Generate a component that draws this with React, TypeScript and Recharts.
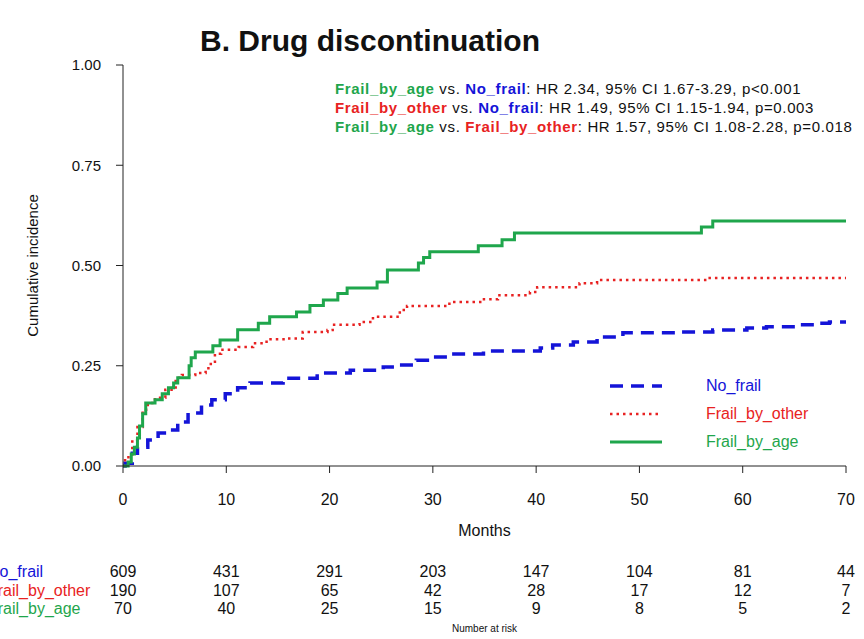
import { LineChart, Line, XAxis, YAxis, Label } from "recharts";

const GREEN = "#1fa64c";
const RED = "#e82222";
const BLUE = "#1414d8";
const FONT = "'Liberation Sans', Arial, sans-serif";

const monthTicks = [0, 10, 20, 30, 40, 50, 60, 70];
const yTicks = [0, 0.25, 0.5, 0.75, 1];

// cumulative incidence, step changes (month, value)
const noFrail = [
  [0, 0], [0.2, 0.007], [0.9, 0.032], [1.4, 0.047], [2.4, 0.065], [3.4, 0.082], [4.4, 0.09],
  [5.3, 0.11], [6.3, 0.132], [7.6, 0.152], [8.6, 0.165], [9.9, 0.18], [11.1, 0.195], [12.3, 0.207],
  [15.5, 0.219], [18.8, 0.232], [22, 0.239], [25.2, 0.247], [26.8, 0.252], [28.4, 0.264], [30, 0.272],
  [31.7, 0.279], [34.9, 0.287], [40.4, 0.294], [41.6, 0.302], [43.6, 0.309], [45.9, 0.322],
  [48.4, 0.332], [53.9, 0.334], [57.1, 0.339], [60.4, 0.344], [62.3, 0.347], [65.2, 0.352],
  [67.5, 0.356], [68.4, 0.359], [70, 0.359],
].map(([t, v]) => ({ t, v }));

const frailByOther = [
  [0, 0], [0.2, 0.022], [0.9, 0.065], [1.4, 0.097], [1.9, 0.14], [2.4, 0.157], [3.1, 0.17], [4.1, 0.19],
  [5.1, 0.22], [5.7, 0.227], [7.0, 0.232], [8.0, 0.244], [8.5, 0.26], [8.9, 0.28], [9.5, 0.29],
  [11.2, 0.297], [12.6, 0.306], [13.9, 0.316], [15.9, 0.318], [17.4, 0.334], [19.8, 0.339],
  [20.3, 0.352], [22.9, 0.359], [24.2, 0.372], [26.8, 0.389], [27.5, 0.399], [31.6, 0.409],
  [34.8, 0.416], [36.3, 0.426], [39.4, 0.434], [40.1, 0.446], [44.2, 0.456], [45.9, 0.464],
  [56.5, 0.469], [70, 0.469],
].map(([t, v]) => ({ t, v }));

const frailByAge = [
  [0, 0], [0.5, 0.01], [0.8, 0.03], [1.1, 0.047], [1.4, 0.07], [1.6, 0.1], [1.9, 0.13], [2.2, 0.157],
  [3.1, 0.165], [3.8, 0.18], [4.4, 0.195], [4.9, 0.207], [5.3, 0.22], [6.4, 0.25], [6.6, 0.27],
  [7.0, 0.284], [8.7, 0.3], [9.4, 0.314], [11.1, 0.34], [13.1, 0.356], [14.2, 0.372], [16.8, 0.384],
  [18.1, 0.4], [19.4, 0.414], [20.8, 0.43], [21.7, 0.444], [24.6, 0.459], [25.6, 0.489], [28.6, 0.506],
  [29.1, 0.52], [29.7, 0.534], [34.4, 0.549], [36.7, 0.564], [37.9, 0.581], [56.0, 0.596],
  [57.1, 0.611], [70, 0.611],
].map(([t, v]) => ({ t, v }));

// number at risk
const riskNoFrail = [609, 431, 291, 203, 147, 104, 81, 44];
const riskFrailOther = [190, 107, 65, 42, 28, 17, 12, 7];
const riskFrailAge = [70, 40, 25, 15, 9, 8, 5, 2];

const groups = [
  { name: "No_frail", color: BLUE, risk: riskNoFrail, data: noFrail, dash: "13 8", width: 3.5 },
  { name: "Frail_by_other", color: RED, risk: riskFrailOther, data: frailByOther, dash: "2.5 4", width: 2.5 },
  { name: "Frail_by_age", color: GREEN, risk: riskFrailAge, data: frailByAge, dash: undefined, width: 3 },
];

function riskTick(g: typeof groups[number]) {
  return (props: any) => {
    const { x, y, index } = props;
    return (
      <g>
        {index === 0 && (
          <text x={x - 135} y={y} dy={21} fontSize={16} fill={g.color} fontFamily={FONT}>
            {g.name}
          </text>
        )}
        <text x={x} y={y} dy={21} fontSize={16} fill="#111" textAnchor="middle" fontFamily={FONT}>
          {g.risk[index]}
        </text>
      </g>
    );
  };
}

const B = (c: string, s: string) => <span style={{ color: c, fontWeight: "bold" }}>{s}</span>;

export default function App() {
  return (
    <div style={{ position: "absolute", left: 0, top: 0, width: 864, height: 639, background: "#fff", fontFamily: FONT }}>
      <LineChart width={864} height={639} margin={{ top: 65, right: 18, left: 63, bottom: 27.5 }}>
        <XAxis
          dataKey="t"
          type="number"
          domain={[0, 70]}
          ticks={monthTicks}
          height={90}
          tickSize={7}
          tickMargin={21}
          stroke="#222"
          tick={{ fontSize: 16, fill: "#111", fontFamily: FONT }}
        >
          <Label value="Months" position="insideBottom" offset={20} style={{ fontSize: 16, fill: "#111", fontFamily: FONT }} />
        </XAxis>
        {groups.map((g, i) => (
          <XAxis
            key={g.name}
            xAxisId={"r" + i}
            dataKey="t"
            type="number"
            domain={[0, 70]}
            ticks={monthTicks}
            allowDataOverflow
            height={18.5}
            axisLine={false}
            tickLine={false}
            tickSize={0}
            tickMargin={0}
            tick={riskTick(g)}
          >
            {i === 2 && (
              <Label value="Number at risk" position="insideBottom" offset={-20} style={{ fontSize: 10, fill: "#111", fontFamily: FONT }} />
            )}
          </XAxis>
        ))}
        <YAxis
          type="number"
          domain={[0, 1]}
          ticks={yTicks}
          width={60}
          tickSize={7}
          tickMargin={15}
          stroke="#222"
          tickFormatter={(v: number) => v.toFixed(2)}
          tick={{ fontSize: 15, fill: "#111", fontFamily: FONT }}
        >
          <Label value="Cumulative incidence" angle={-90} position="insideLeft" offset={-30} style={{ textAnchor: "middle", fontSize: 15, fill: "#111", fontFamily: FONT }} />
        </YAxis>
        {groups.map((g, i) => (
          <Line key={"h" + i} xAxisId={"r" + i} data={g.data} dataKey="v" stroke="none" dot={false} activeDot={false} legendType="none" isAnimationActive={false} />
        ))}
        {groups.map((g) => (
          <Line key={g.name} data={g.data} dataKey="v" type="stepAfter" stroke={g.color} strokeWidth={g.width} strokeDasharray={g.dash} dot={false} isAnimationActive={false} />
        ))}
      </LineChart>
      <div style={{ position: "absolute", left: 200, top: 24, fontSize: 30, fontWeight: "bold", color: "#111", whiteSpace: "nowrap" }}>
        B. Drug discontinuation
      </div>
      <div style={{ position: "absolute", left: 335, top: 79, fontSize: 15, letterSpacing: 0.65, lineHeight: "19px", color: "#111", whiteSpace: "nowrap" }}>
        <div>{B(GREEN, "Frail_by_age")} vs. {B(BLUE, "No_frail")}: HR 2.34, 95% CI 1.67-3.29, p&lt;0.001</div>
        <div>{B(RED, "Frail_by_other")} vs. {B(BLUE, "No_frail")}: HR 1.49, 95% CI 1.15-1.94, p=0.003</div>
        <div>{B(GREEN, "Frail_by_age")} vs. {B(RED, "Frail_by_other")}: HR 1.57, 95% CI 1.08-2.28, p=0.018</div>
      </div>
      <div style={{ position: "absolute", left: 606, top: 372, fontSize: 16 }}>
        {groups.map((g) => (
          <div key={g.name} style={{ display: "flex", alignItems: "center", height: 28 }}>
            <svg width={60} height={10}>
              <line x1={4} x2={56} y1={5} y2={5} stroke={g.color} strokeWidth={g.width} strokeDasharray={g.dash} />
            </svg>
            <span style={{ color: g.color, marginLeft: 40 }}>{g.name}</span>
          </div>
        ))}
      </div>
    </div>
  );
}
